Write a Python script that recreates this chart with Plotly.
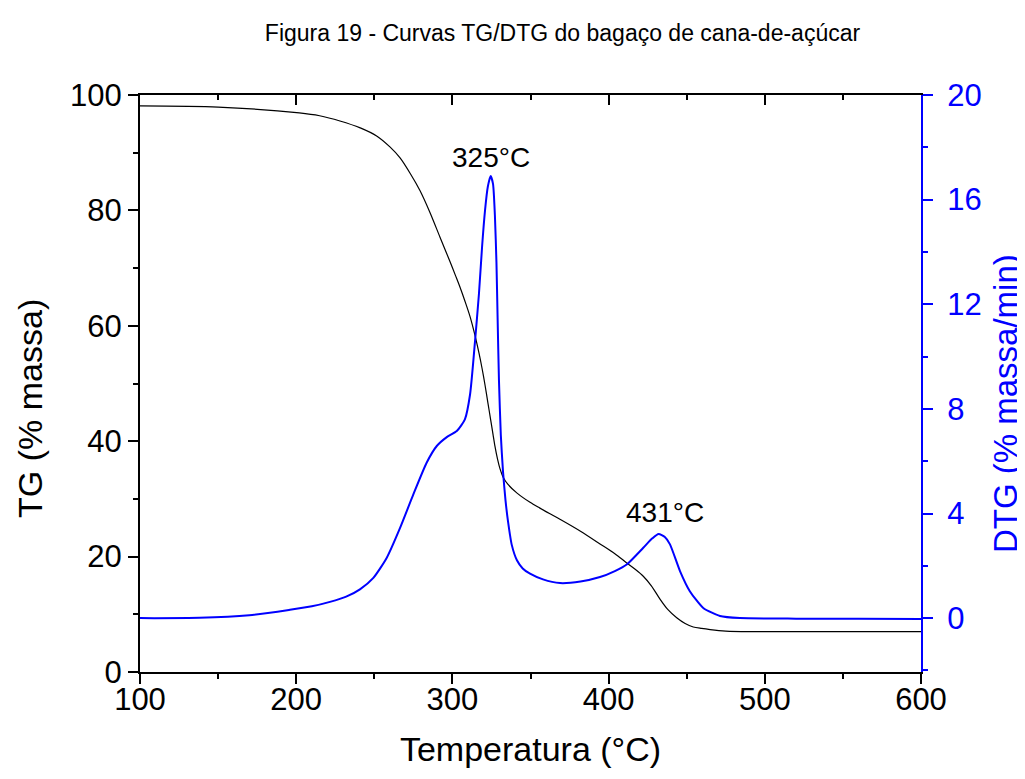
import plotly.graph_objects as go

# TG curve (% massa) vs temperature (°C)
tg_temp = [100, 150, 202, 215, 228, 241, 251.5, 260, 266.5, 273, 279.3, 285.7, 292,
           298.5, 302, 305, 308, 311.3, 314.5, 317, 319, 320.9, 322.7, 324.5, 326,
           327.2, 328.9, 330.5, 332.4, 335.6, 341.4, 349.7, 356, 370, 382, 394.5,
           404, 411.6, 417, 422.2, 427.5, 433, 438, 443.6, 449, 454.2, 459.5, 465,
           475, 490, 600]
tg_mass = [98.1, 97.9, 96.9, 96.4, 95.5, 94.3, 92.9, 91.0, 89.1, 86.4, 83.4, 79.6,
           75.4, 71.1, 68.7, 66.6, 64.3, 61.6, 58.3, 55.3, 52.6, 49.7, 46.7, 43.7,
           41.2, 39.2, 36.9, 35.2, 33.8, 32.5, 31.0, 29.4, 28.4, 26.3, 24.4, 22.2,
           20.5, 18.9, 17.8, 16.6, 14.9, 12.6, 10.8, 9.4, 8.4, 7.8, 7.55, 7.35,
           7.1, 7.0, 7.0]

# DTG curve (% massa/min) vs temperature (°C)
dtg_temp = [100, 138, 170, 196, 210, 221.6, 232, 240.8, 249.4, 257.9, 266.5, 275,
            283.5, 290, 296.4, 302.8, 308, 311.3, 314.5, 317, 319, 320.9, 322.7,
            324.5, 326, 327.2, 328.2, 328.9, 329.8, 331, 332.4, 334, 335.6, 338,
            341.4, 345, 349.7, 358, 368.9, 382, 394.5, 404, 411.6, 422.2, 428,
            432, 436, 439.3, 445.7, 452, 460.6, 471.3, 484, 520, 560, 600]
dtg_rate = [0.0, 0.01, 0.11, 0.32, 0.45, 0.62, 0.82, 1.1, 1.54, 2.3, 3.45, 4.73,
            5.94, 6.58, 6.92, 7.15, 7.6, 8.55, 10.6, 12.4, 14.2, 15.6, 16.5, 16.9,
            16.6, 15.4, 13.6, 11.6, 9.1, 7.0, 5.6, 4.5, 3.7, 2.8, 2.2, 1.9, 1.7,
            1.48, 1.34, 1.4, 1.57, 1.8, 2.05, 2.69, 3.05, 3.22, 3.1, 2.82, 1.8, 1.03,
            0.39, 0.08, 0.0, -0.02, -0.02, -0.03]

peak_labels = ["325°C", "431°C"]
peak_label_x = [324.5, 436]
peak_label_y = [17.6, 4.05]

FONT = "Liberation Sans, Arial, sans-serif"
BLUE = "#0000ff"
W, H = 1017, 771

fig = go.Figure()
fig.add_trace(go.Scatter(x=tg_temp, y=tg_mass, mode="lines",
                         line=dict(color="black", width=1.2, shape="spline", smoothing=0.8),
                         showlegend=False, yaxis="y"))
fig.add_trace(go.Scatter(x=dtg_temp, y=dtg_rate, mode="lines",
                         line=dict(color=BLUE, width=2, shape="spline", smoothing=0.6),
                         showlegend=False, yaxis="y2"))
# empty trace so the top mirror axis is drawn
fig.add_trace(go.Scatter(x=[], y=[], xaxis="x2", yaxis="y", showlegend=False))

for lx, ly, txt in zip(peak_label_x, peak_label_y, peak_labels):
    fig.add_annotation(x=lx, y=ly, xref="x", yref="y2", text=txt, showarrow=False,
                       font=dict(size=28, color="black", family=FONT),
                       xanchor="center", yanchor="middle")

TICKF = 31
TITLEF = 34

# y-axis titles (placed as rotated text, as in the reference)
fig.add_annotation(x=-0.1408, y=0.456, xref="paper", yref="paper", text="TG (% massa)",
                   textangle=-90, showarrow=False, xanchor="center", yanchor="middle",
                   font=dict(size=TITLEF, color="black", family=FONT))
fig.add_annotation(x=1.1075, y=0.466, xref="paper", yref="paper", text="DTG (% massa/min)",
                   textangle=-90, showarrow=False, xanchor="center", yanchor="middle",
                   font=dict(size=33, color=BLUE, family=FONT))

fig.update_layout(
    width=W, height=H,
    margin=dict(l=132, r=104, t=87, b=107),
    paper_bgcolor="white", plot_bgcolor="white",
    font=dict(family=FONT, color="black"),
    title=dict(text="Figura 19 - Curvas TG/DTG do bagaço de cana-de-açúcar",
               x=554.5 / W, xanchor="center", y=1 - 25/H, yanchor="middle",
               font=dict(size=23, color="black", family=FONT)),
    xaxis=dict(range=[100, 600], tick0=100, dtick=100, ticks="outside", ticklen=10,
               tickwidth=2, tickcolor="black", showline=True, linecolor="black",
               linewidth=2, showgrid=False, zeroline=False, automargin=False,
               tickfont=dict(size=TICKF, color="black"), ticklabelstandoff=-11,
               minor=dict(ticks="outside", ticklen=5, tickwidth=2, dtick=50,
                          tickcolor="black", showgrid=False),
               title=dict(text="Temperatura (°C)", font=dict(size=TITLEF, color="black"),
                          standoff=21)),
    xaxis2=dict(range=[100, 600], overlaying="x", side="top", anchor="y",
                tick0=100, dtick=100, ticks="inside", ticklen=10, tickwidth=2,
                tickcolor="black", showline=True, linecolor="black", linewidth=2,
                showgrid=False, zeroline=False, showticklabels=False, automargin=False,
                minor=dict(ticks="inside", ticklen=5, tickwidth=2, dtick=50,
                           tickcolor="black", showgrid=False)),
    yaxis=dict(range=[0, 100], tick0=0, dtick=20, ticks="outside", ticklen=10,
               tickwidth=2, tickcolor="black", showline=True, linecolor="black",
               linewidth=2, showgrid=False, zeroline=False, automargin=False,
               tickfont=dict(size=TICKF, color="black"),
               minor=dict(ticks="outside", ticklen=5, tickwidth=2, dtick=10,
                          tickcolor="black", showgrid=False)),
    yaxis2=dict(range=[-2.06, 20], overlaying="y", side="right", anchor="x",
                tick0=0, dtick=4, ticks="outside", ticklen=10, tickwidth=2,
                tickcolor=BLUE, showline=True, linecolor=BLUE, linewidth=2,
                showgrid=False, zeroline=False, automargin=False,
                tickfont=dict(size=TICKF, color=BLUE), ticklabelstandoff=8,
                minor=dict(ticks="outside", ticklen=5, tickwidth=2, tick0=0, dtick=2,
                           tickcolor=BLUE, showgrid=False)),
)

fig.write_html("out.html")
